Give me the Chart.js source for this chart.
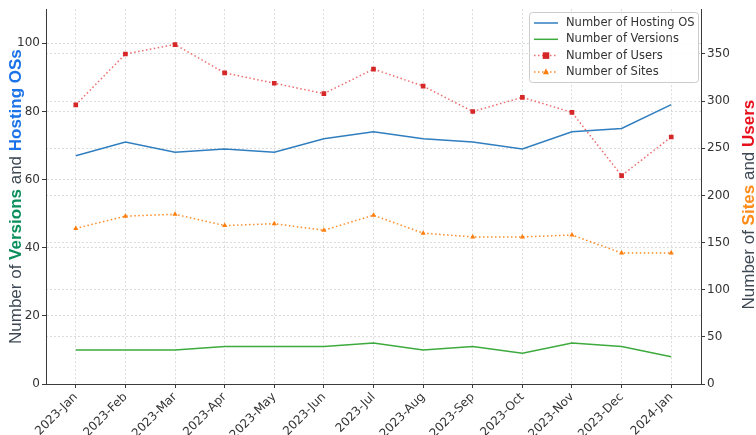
<!DOCTYPE html>
<html>
<head>
<meta charset="utf-8">
<script src="https://cdn.jsdelivr.net/npm/chart.js@4.4.1/dist/chart.umd.min.js"></script>
<style>
  html, body { margin: 0; padding: 0; background: #fff; }
  #wrap { width: 756px; height: 435px; position: relative; }
</style>
</head>
<body>
<div id="wrap"><canvas id="usageChart"></canvas></div>
<script>
// Months on the x axis
const months = ["2023-Jan", "2023-Feb", "2023-Mar", "2023-Apr", "2023-May", "2023-Jun",
  "2023-Jul", "2023-Aug", "2023-Sep", "2023-Oct", "2023-Nov", "2023-Dec", "2024-Jan"];

// Left axis series
const hostingOS = [67, 71, 68, 69, 68, 72, 74, 72, 71, 69, 74, 75, 82];
const versions = [10, 10, 10, 11, 11, 11, 12, 10, 11, 9, 12, 11, 8];

// Right axis series
const users = [296, 350, 360, 330, 319, 308, 334, 316, 289, 304, 288, 221, 262];
const sites = [165, 178, 180, 168, 170, 163, 179, 160, 156, 156, 158, 139, 139];

// Tick labels
const leftTicks = [0, 20, 40, 60, 80, 100];
const rightTicks = [0, 50, 100, 150, 200, 250, 300, 350];

const toPoints = arr => arr.map((v, i) => ({ x: i, y: v }));

const gridColor = "#dcdcdc";
const axisColor = "#3a3a3a";
const tickFont = { family: "DejaVu Sans", size: 12 };

// Rotated, multi-colored axis titles
function drawTitle(ctx, cx, cy, parts) {
  ctx.save();
  ctx.translate(cx, cy);
  ctx.rotate(-Math.PI / 2);
  ctx.textBaseline = "middle";
  let total = 0;
  parts.forEach(p => { ctx.font = p.font; total += ctx.measureText(p.text).width; });
  let x = -total / 2;
  parts.forEach(p => {
    ctx.font = p.font;
    ctx.fillStyle = p.color;
    ctx.fillText(p.text, x, 0);
    x += ctx.measureText(p.text).width;
  });
  ctx.restore();
}

const titlePlugin = {
  id: "axisTitles",
  afterDraw(chart) {
    const ctx = chart.ctx;
    const area = chart.chartArea;
    const cy = (area.top + area.bottom) / 2;
    const reg = "17px 'Liberation Sans'";
    const bold = "bold 17px 'Liberation Sans'";
    const grey = "#3d4854";
    drawTitle(ctx, 16, cy, [
      { text: "Number of ", font: reg, color: grey },
      { text: "Versions", font: bold, color: "#0a8f5c" },
      { text: " and ", font: reg, color: grey },
      { text: "Hosting OSs", font: bold, color: "#1a73e8" }
    ]);
    drawTitle(ctx, 749, cy + 8, [
      { text: "Number of ", font: reg, color: grey },
      { text: "Sites", font: bold, color: "#ff8c1a" },
      { text: " and ", font: reg, color: grey },
      { text: "Users", font: bold, color: "#e8101c" }
    ]);
  }
};

// Legend box in the upper right of the plot
const legendPlugin = {
  id: "boxLegend",
  afterDraw(chart) {
    const ctx = chart.ctx;
    const area = chart.chartArea;
    const boxW = 169, boxH = 70;
    const bx = area.right - boxW - 3, by = 12;
    ctx.save();
    ctx.fillStyle = "rgba(255,255,255,0.85)";
    ctx.strokeStyle = "#cccccc";
    ctx.lineWidth = 1;
    ctx.beginPath();
    ctx.roundRect(bx + 0.5, by + 0.5, boxW, boxH, 3);
    ctx.fill();
    ctx.stroke();
    ctx.font = "11.5px 'DejaVu Sans'";
    ctx.textBaseline = "middle";
    chart.data.datasets.forEach((ds, i) => {
      const y = by + 11 + i * 16.3;
      ctx.strokeStyle = ds.borderColor;
      ctx.lineWidth = ds.borderWidth;
      ctx.setLineDash(ds.borderDash || []);
      ctx.beginPath();
      ctx.moveTo(bx + 5, y);
      ctx.lineTo(bx + 29, y);
      ctx.stroke();
      ctx.setLineDash([]);
      if (ds.pointRadius > 0) {
        ctx.fillStyle = ds.pointBackgroundColor;
        const r = ds.pointRadius;
        ctx.beginPath();
        if (ds.pointStyle === "rect") {
          ctx.rect(bx + 17 - r, y - r, 2 * r, 2 * r);
        } else {
          ctx.moveTo(bx + 17, y - r * 1.2);
          ctx.lineTo(bx + 17 + r, y + r * 0.8);
          ctx.lineTo(bx + 17 - r, y + r * 0.8);
          ctx.closePath();
        }
        ctx.fill();
      }
      ctx.fillStyle = "#333";
      ctx.fillText(ds.label, bx + 37, y);
    });
    ctx.restore();
  }
};

const ctx = document.getElementById("usageChart").getContext("2d");
new Chart(ctx, {
  type: "line",
  data: {
    datasets: [
      {
        label: "Number of Hosting OS",
        data: toPoints(hostingOS),
        yAxisID: "yLeft",
        borderColor: "#2f7ebf",
        borderWidth: 1.5,
        pointRadius: 0,
        tension: 0
      },
      {
        label: "Number of Versions",
        data: toPoints(versions),
        yAxisID: "yLeft",
        borderColor: "#3daa3d",
        borderWidth: 1.5,
        pointRadius: 0,
        tension: 0
      },
      {
        label: "Number of Users",
        data: toPoints(users),
        yAxisID: "yRight",
        borderColor: "rgba(235,70,70,0.8)",
        borderWidth: 1.5,
        borderDash: [1.5, 2.5],
        pointStyle: "rect",
        pointRadius: 3.3,
        pointBackgroundColor: "#d62728",
        pointBorderColor: "#d62728",
        pointBorderWidth: 0,
        tension: 0
      },
      {
        label: "Number of Sites",
        data: toPoints(sites),
        yAxisID: "yRight",
        borderColor: "rgba(255,127,14,0.9)",
        borderWidth: 1.5,
        borderDash: [1.5, 2.5],
        pointStyle: "triangle",
        pointRadius: 3,
        pointBackgroundColor: "#ff7f0e",
        pointBorderColor: "#ff7f0e",
        pointBorderWidth: 0,
        tension: 0
      }
    ]
  },
  options: {
    responsive: true,
    maintainAspectRatio: false,
    animation: false,
    layout: { padding: { top: 6, left: 0, right: 0, bottom: 0 } },
    plugins: {
      legend: { display: false },
      tooltip: { enabled: false }
    },
    scales: {
      x: {
        type: "linear",
        min: -0.6,
        max: 12.6,
        afterBuildTicks: scale => { scale.ticks = months.map((_, i) => ({ value: i })); },
        afterFit: scale => { scale.height = 51; },
        ticks: {
          autoSkip: false,
          maxRotation: 45,
          minRotation: 45,
          padding: 2,
          color: "#333",
          font: tickFont,
          callback: value => months[value] || ""
        },
        grid: { color: gridColor, tickColor: axisColor, tickLength: 4, tickBorderDash: [1, 0] },
        border: { color: axisColor, width: 1, dash: [2, 2] }
      },
      yLeft: {
        type: "linear",
        position: "left",
        min: 0,
        max: 110,
        afterBuildTicks: scale => { scale.ticks = leftTicks.map(v => ({ value: v })); },
        afterFit: scale => { scale.width = 46; },
        ticks: { color: "#333", font: tickFont, padding: 2 },
        grid: { color: gridColor, tickColor: axisColor, tickLength: 4, tickBorderDash: [1, 0] },
        border: { color: axisColor, width: 1, dash: [2, 2] }
      },
      yRight: {
        type: "linear",
        position: "right",
        min: 0,
        max: 397.5,
        afterBuildTicks: scale => { scale.ticks = rightTicks.map(v => ({ value: v })); },
        afterFit: scale => { scale.width = 55; },
        ticks: { color: "#333", font: tickFont, padding: 2 },
        grid: { color: gridColor, tickColor: axisColor, tickLength: 4, tickBorderDash: [1, 0] },
        border: { color: axisColor, width: 1, dash: [2, 2] }
      }
    }
  },
  plugins: [titlePlugin, legendPlugin]
});
</script>
</body>
</html>
